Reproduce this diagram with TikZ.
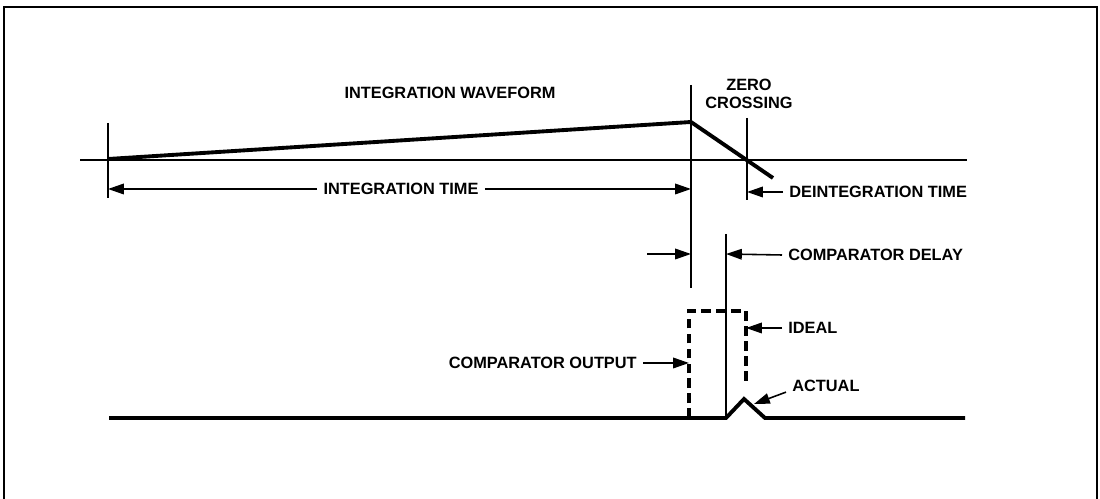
\documentclass[tikz,border=0pt]{standalone}
\usepackage{fontspec}
\setmainfont{Liberation Sans}
\usetikzlibrary{arrows.meta}

\begin{document}
\begin{tikzpicture}[x=0.02cm,y=-0.02cm,
	lbl/.style={font=\fontsize{9.3}{10.4}\selectfont\bfseries,inner xsep=3.4pt,inner ysep=0pt},
	thin line/.style={line width=0.9pt},
	wave/.style={line width=2.2pt,line join=miter},
	dim/.style={thin line,-{Triangle[length=9pt,width=6pt]}}]
	\useasboundingbox(0,0)rectangle(1100,499);
	% marco
	\draw[line width=1.3pt](4,499)--(4,7)--(1097,7)--(1097,499);
	% eje y marcas de tiempo
	\draw[thin line](80,160)--(967,160);
	\draw[thin line](108,123)--(108,198);
	\draw[thin line](691,85)--(691,288);
	\draw[thin line](747,118)--(747,200);
	\draw[thin line](726,234)--(726,418);
	% forma de onda de integracion
	\coordinate(t0)at(108,159);
	\coordinate(tpk)at(691,122);
	\coordinate(tend)at(773,178);
	\draw[wave](t0)--(tpk)--(tend);
	% salida del comparador
	\draw[wave](109,418)--(726,418)--(744,399)--(765,418)--(965,418);
	\draw[wave,dash pattern=on 5.5pt off 3pt](689,418)--(689,311)--(746,311)--(746,382);
	% etiquetas
	\node[lbl](wavelab)at(450,93){INTEGRATION WAVEFORM};
	\node[lbl,align=center](zclab)at(749,94){ZERO\\CROSSING};
	\node[lbl](inttime)at(401,189){INTEGRATION TIME};
	\node[lbl,anchor=west](deint)at(783,192){DEINTEGRATION TIME};
	\node[lbl,anchor=west](cdelay)at(782,255){COMPARATOR DELAY};
	\node[lbl,anchor=west](ideal)at(782,328){IDEAL};
	\node[lbl,anchor=east](cout)at(643,363){COMPARATOR OUTPUT};
	\node[lbl,anchor=west](actual)at(786,386){ACTUAL};
	% flechas de cota
	\coordinate(delayin)at(647,254);
	\draw[dim](inttime.west)--(108,189);
	\draw[dim](inttime.east)--(691,189);
	\draw[dim](deint.west)--(747,192);
	\draw[dim](delayin)--(691,254);
	\draw[dim](cdelay.west)--(726,254);
	\draw[dim](ideal.west)--(746,328);
	\draw[dim](cout.east)--(689,363);
	\draw[dim](actual.south west)--(754,404);
\end{tikzpicture}
\end{document}
